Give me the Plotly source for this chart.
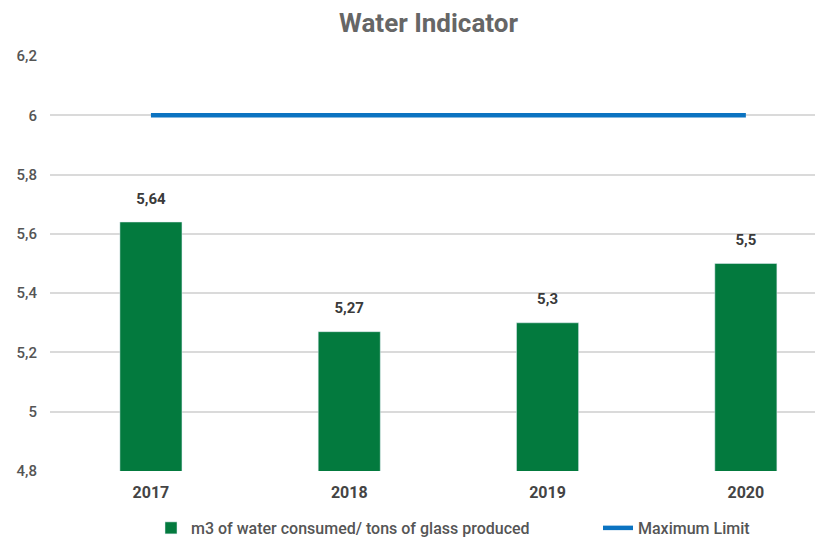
import plotly.graph_objects as go

years = ["2017", "2018", "2019", "2020"]
water = [5.64, 5.27, 5.3, 5.5]
max_limit = [6, 6, 6, 6]
y_ticks = [4.8, 5.0, 5.2, 5.4, 5.6, 5.8, 6.0, 6.2]

FONT = "Roboto, Arial, sans-serif"

labels = ["<b>" + str(v).replace(".", ",") + "</b>" for v in water]

fig = go.Figure()
fig.add_trace(go.Bar(
    x=years, y=water, name="m3 of water consumed/ tons of glass produced",
    marker=dict(color="#037A3E"), width=0.313, legend="legend",
))
fig.add_trace(go.Scatter(
    x=years, y=max_limit, name="Maximum Limit", mode="lines",
    line=dict(color="#0B73C1", width=4.5), legend="legend2",
))
# value labels above the bars
fig.add_trace(go.Scatter(
    x=years, y=water, text=labels, mode="markers+text",
    textposition="top center",
    marker=dict(size=22, color="rgba(0,0,0,0)"),
    textfont=dict(family=FONT, size=15, color="#3a3a3a"),
    showlegend=False, hoverinfo="skip", cliponaxis=False,
))

# white band hiding part of the top gridline (as in the original image)
fig.add_shape(type="rect", xref="paper", yref="paper",
              x0=0.327, x1=0.675, y0=0.99, y1=1.01,
              fillcolor="white", line=dict(width=0), layer="above")

fig.update_layout(
    width=815, height=532,
    separators=",.",
    paper_bgcolor="white", plot_bgcolor="white",
    margin=dict(l=42, r=0, t=48, b=69, autoexpand=False),
    font=dict(family=FONT, color="#555555"),
    title=dict(text="<b>Water Indicator</b>", xref="container", x=0.516, xanchor="center",
               yref="container", y=0.972, yanchor="middle",
               font=dict(family=FONT, size=26, color="#666666")),
    showlegend=True,
    legend=dict(orientation="h", xref="container", x=143 / 815, xanchor="left",
                yref="container", y=0.0226, yanchor="middle",
                font=dict(family=FONT, size=16, color="#555555", weight=500),
                itemwidth=30, bgcolor="rgba(0,0,0,0)"),
    legend2=dict(orientation="h", xref="container", x=590 / 815, xanchor="left",
                 yref="container", y=0.0226, yanchor="middle",
                 font=dict(family=FONT, size=16, color="#555555", weight=500),
                 itemwidth=30, bgcolor="rgba(0,0,0,0)"),
)
fig.update_xaxes(
    type="category", range=[-0.509, 3.389],
    showgrid=False, showline=False, ticks="",
    tickfont=dict(family=FONT, size=16, color="#444444", weight="bold"),
    ticklabelstandoff=10,
)
fig.update_yaxes(
    range=[4.8, 6.2], tickvals=y_ticks,
    showgrid=True, gridcolor="#DADADA", gridwidth=1.6,
    zeroline=False, showline=False, ticks="",
    tickfont=dict(family=FONT, size=15, color="#555555", weight=500),
    ticklabelstandoff=12,
)

fig.write_html("out.html")
